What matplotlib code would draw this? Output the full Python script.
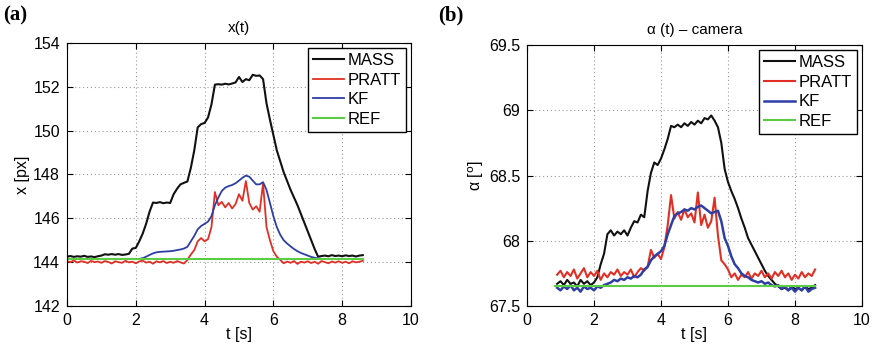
import matplotlib.pyplot as plt

plt.rcParams['font.family'] = ['Liberation Sans', 'DejaVu Sans']

# time grids [s]
ta = [0.0, 0.1, 0.2, 0.3, 0.4, 0.5, 0.6, 0.7, 0.8, 0.9,
      1.0, 1.1, 1.2, 1.3, 1.4, 1.5, 1.6, 1.7, 1.8, 1.9,
      2.0, 2.1, 2.2, 2.3, 2.4, 2.5, 2.6, 2.7, 2.8, 2.9,
      3.0, 3.1, 3.2, 3.3, 3.4, 3.5, 3.6, 3.7, 3.8, 3.9,
      4.0, 4.1, 4.2, 4.3, 4.4, 4.5, 4.6, 4.7, 4.8, 4.9,
      5.0, 5.1, 5.2, 5.3, 5.4, 5.5, 5.6, 5.7, 5.8, 5.9,
      6.0, 6.1, 6.2, 6.3, 6.4, 6.5, 6.6, 6.7, 6.8, 6.9,
      7.0, 7.1, 7.2, 7.3, 7.4, 7.5, 7.6, 7.7, 7.8, 7.9,
      8.0, 8.1, 8.2, 8.3, 8.4, 8.5, 8.6]
tb = ta[9:]

# (a) x(t) [px]
mass_a = [144.25, 144.28, 144.24, 144.27, 144.25, 144.29, 144.24, 144.26, 144.23, 144.27,
          144.30, 144.36, 144.34, 144.37, 144.34, 144.37, 144.33, 144.35, 144.38, 144.62,
          144.65, 144.95, 145.3, 145.75, 146.3, 146.72, 146.70, 146.74, 146.69, 146.72,
          146.70, 147.1, 147.35, 147.55, 147.62, 147.68, 148.3, 149.1, 150.15, 150.3,
          150.35, 150.6, 151.2, 152.1, 152.12, 152.10, 152.14, 152.11, 152.15, 152.20,
          152.45, 152.22, 152.35, 152.30, 152.55, 152.50, 152.52, 152.35, 151.25, 150.5,
          149.8, 149.1, 148.6, 148.1, 147.7, 147.3, 146.95, 146.6, 146.2, 145.8,
          145.4, 145.0, 144.6, 144.25, 144.28, 144.30, 144.27, 144.32, 144.28, 144.30,
          144.27, 144.31, 144.28, 144.30, 144.26, 144.30, 144.32]
pratt_a = [144.05, 144.0, 144.08, 143.98, 144.04, 144.02, 143.96, 144.06, 144.0, 144.03,
           143.97, 144.05, 144.01, 143.94, 144.04, 144.0, 143.97, 144.06, 143.99, 144.02,
           143.95, 144.03, 144.07, 143.98, 144.02, 143.93, 144.04, 143.99, 144.05, 143.96,
           144.02, 143.97, 144.05, 143.99, 143.94, 144.1, 144.35, 144.55, 144.95, 145.1,
           144.95, 145.05, 145.6, 147.2, 146.6, 146.75, 146.5, 146.7, 146.45, 146.65,
           147.1, 146.8, 147.7, 146.7, 146.4, 146.55, 146.3, 147.6, 145.6, 145.0,
           144.5, 144.25, 144.1, 143.95, 144.03, 143.97, 144.05, 143.92, 144.02, 143.98,
           144.04, 143.96, 144.02, 143.93, 144.05, 144.0, 143.95, 144.03, 143.98, 144.04,
           143.97, 144.02, 143.95, 144.04, 143.99, 144.02, 144.06]
kf_a = [144.15, 144.15, 144.15, 144.15, 144.15, 144.15, 144.15, 144.15, 144.15, 144.15,
        144.15, 144.15, 144.15, 144.15, 144.15, 144.15, 144.15, 144.15, 144.15, 144.15,
        144.15, 144.15, 144.18, 144.25, 144.33, 144.4, 144.45, 144.47, 144.48, 144.49,
        144.5, 144.52, 144.55, 144.58, 144.62, 144.7, 144.95, 145.2, 145.5, 145.65,
        145.75, 145.85, 146.1, 146.6, 146.95, 147.25, 147.4, 147.47, 147.52, 147.6,
        147.72, 147.85, 147.95, 147.9, 147.72, 147.55, 147.55, 147.65, 147.3, 146.7,
        146.1, 145.6, 145.25, 145.0, 144.85, 144.72, 144.6, 144.5, 144.42, 144.36,
        144.3, 144.24, 144.2, 144.17, 144.15, 144.15, 144.15, 144.15, 144.15, 144.15,
        144.15, 144.15, 144.15, 144.15, 144.15, 144.15, 144.15]
ref_a_t = [0.0, 8.6]
ref_a = [144.15, 144.15]

# (b) alpha(t) - camera [deg]
mass_b = [67.67,
          67.69, 67.66, 67.70, 67.67, 67.68, 67.65, 67.70, 67.67, 67.69, 67.66,
          67.68, 67.72, 67.82, 67.9, 68.05, 68.08, 68.04, 68.07, 68.05, 68.08,
          68.04, 68.1, 68.15, 68.14, 68.2, 68.18, 68.38, 68.52, 68.6, 68.58,
          68.63, 68.7, 68.78, 68.88, 68.87, 68.89, 68.87, 68.9, 68.88, 68.91,
          68.89, 68.92, 68.9, 68.94, 68.93, 68.96, 68.92, 68.87, 68.75, 68.55,
          68.45, 68.38, 68.32, 68.25, 68.17, 68.1, 68.02, 67.97, 67.92, 67.87,
          67.82, 67.77, 67.73, 67.7, 67.67, 67.65, 67.63, 67.64, 67.62, 67.65,
          67.63, 67.64, 67.62, 67.65, 67.63, 67.64, 67.66]
pratt_b = [67.74,
           67.77, 67.72, 67.76, 67.73, 67.78, 67.71, 67.75, 67.79, 67.72, 67.76,
           67.73, 67.77, 67.70, 67.75, 67.72, 67.76, 67.74, 67.78, 67.73, 67.76,
           67.74, 67.78, 67.72, 67.76, 67.79, 67.77, 67.8, 67.93, 67.87, 67.9,
           67.86, 67.95, 68.12, 68.35, 68.17, 68.22, 68.16, 68.24, 68.18, 68.21,
           68.14, 68.37, 68.12, 68.2, 68.1, 68.15, 68.33, 68.04, 67.85, 67.82,
           67.78, 67.72, 67.75, 67.7, 67.74, 67.72, 67.76, 67.71, 67.75, 67.73,
           67.77, 67.72, 67.75, 67.71, 67.76, 67.73, 67.77, 67.72, 67.75, 67.7,
           67.74, 67.71, 67.76, 67.72, 67.75, 67.73, 67.78]
kf_b = [67.64,
        67.62, 67.65, 67.63, 67.66, 67.62, 67.64, 67.61, 67.65, 67.63, 67.64,
        67.62, 67.65, 67.64, 67.66, 67.67, 67.68, 67.7, 67.69, 67.71, 67.7,
        67.72, 67.71, 67.73, 67.72, 67.74, 67.78, 67.8, 67.85, 67.88, 67.9,
        67.92, 67.96, 68.05, 68.12, 68.19, 68.21, 68.22, 68.24, 68.23, 68.25,
        68.24, 68.26, 68.27, 68.25, 68.23, 68.21, 68.22, 68.23, 68.15, 68.02,
        67.96, 67.88, 67.82, 67.79, 67.75, 67.73, 67.72, 67.7, 67.69, 67.68,
        67.69, 67.67, 67.68, 67.66, 67.65, 67.66, 67.63, 67.65, 67.62, 67.64,
        67.61, 67.64, 67.62, 67.65, 67.61, 67.63, 67.64]
ref_b_t = [0.85, 8.6]
ref_b = [67.655, 67.655]

names = ['MASS', 'PRATT', 'KF', 'REF']
colors = ['#111111', '#e03025', '#2d3fa5', '#5ccc45']

fig = plt.figure(figsize=(8.77, 3.6), dpi=100)
ax1 = fig.add_axes([0.0764, 0.15, 0.3922, 0.7306])
ax2 = fig.add_axes([0.6009, 0.15, 0.382, 0.725])


def style(ax):
    ax.set_xlim(0, 10)
    ax.set_xticks([0, 2, 4, 6, 8, 10])
    ax.grid(True, linestyle=(0, (1, 2.5)), color='#999999', linewidth=0.8)
    ax.tick_params(direction='in', top=True, right=True, labelsize=11.5, length=4, pad=5)
    ax.set_xlabel('t [s]', fontsize=11.5, labelpad=-1)
    for s in ax.spines.values():
        s.set_linewidth(0.8)


def legend(ax):
    leg = ax.legend(loc='upper right', fontsize=12, fancybox=False, edgecolor='black',
                    handlelength=1.9, handletextpad=0.2, borderpad=0.3, labelspacing=0.28,
                    borderaxespad=0.3, framealpha=1)
    leg.get_frame().set_linewidth(1.0)


# panel a
ax1.plot(ta, mass_a, color=colors[0], lw=1.5, label=names[0])
ax1.plot(ta, pratt_a, color=colors[1], lw=1.3, label=names[1])
ax1.plot(ta, kf_a, color=colors[2], lw=1.3, label=names[2])
ax1.plot(ref_a_t, ref_a, color=colors[3], lw=1.5, label=names[3])
style(ax1)
ax1.set_ylim(142, 154)
ax1.set_yticks([142, 144, 146, 148, 150, 152, 154])
ax1.set_ylabel('x [px]', fontsize=11.5, labelpad=2)
ax1.set_title('x(t)', fontsize=11, pad=8)
legend(ax1)

# panel b
ax2.plot(tb, mass_b, color=colors[0], lw=1.5, label=names[0])
ax2.plot(tb, pratt_b, color=colors[1], lw=1.5, label=names[1])
ax2.plot(tb, kf_b, color=colors[2], lw=1.8, label=names[2])
ax2.plot(ref_b_t, ref_b, color=colors[3], lw=1.5, label=names[3])
style(ax2)
ax2.set_ylim(67.5, 69.5)
ax2.set_yticks([67.5, 68, 68.5, 69, 69.5])
ax2.set_yticklabels(['67.5', '68', '68.5', '69', '69.5'])
ax2.set_ylabel('α [$^{\\rm o}$]', fontsize=11.5, labelpad=2)
ax2.set_title('α (t) – camera', fontsize=11, pad=8)
legend(ax2)

fig.text(0.003, 0.985, '(a)', fontsize=15, fontweight='bold', family='Liberation Serif', va='top')
fig.text(0.5, 0.985, '(b)', fontsize=15, fontweight='bold', family='Liberation Serif', va='top')

fig.savefig('out.png', dpi=100)
